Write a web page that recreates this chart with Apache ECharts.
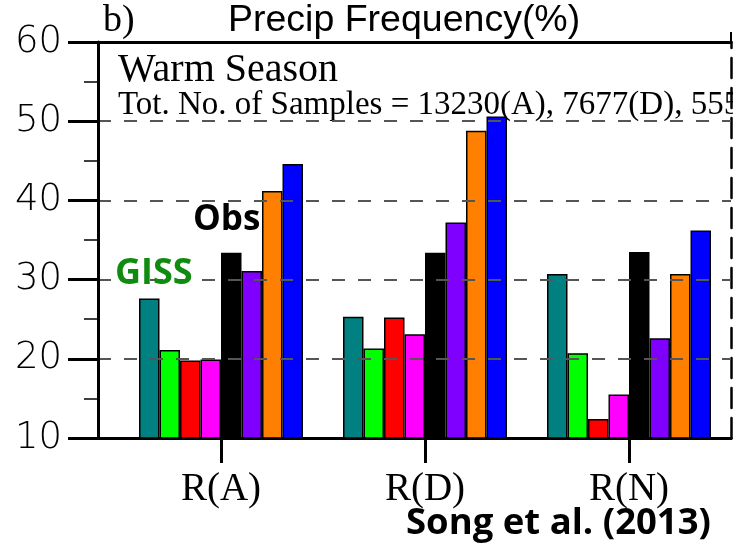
<!DOCTYPE html>
<html>
<head>
<meta charset="utf-8">
<script src="https://cdn.jsdelivr.net/npm/echarts@6/dist/echarts.min.js"></script>
<style>html,body{margin:0;padding:0;background:#fff}#c{width:738px;height:547px}</style>
</head>
<body>
<div id="c"></div>
<script>
const categories = ['R(A)', 'R(D)', 'R(N)'];
const seriesNames = ['Teal', 'GISS', 'Red', 'Magenta', 'Obs', 'Purple', 'Orange', 'Blue'];
const seriesColors = ['#008080', '#00ff00', '#ff0000', '#ff00ff', '#000000', '#8000ff', '#ff8000', '#0000ff'];
const tealVals    = [27.6, 25.3, 30.7];
const greenVals   = [21.1, 21.3, 20.7];
const redVals     = [19.8, 25.2, 12.4];
const magentaVals = [19.9, 23.1, 15.5];
const obsVals     = [33.4, 33.4, 33.5];
const purpleVals  = [31.1, 37.2, 22.6];
const orangeVals  = [41.2, 48.8, 30.7];
const blueVals    = [44.6, 50.6, 36.2];
const yMin = 10, yMax = 60, yStep = 10;
const titleText = 'Precip Frequency(%)';
const panelText = 'b)';
const seasonText = 'Warm Season';
const samplesText = 'Tot. No. of Samples = 13230(A), 7677(D), 555';
const sourceText = 'Song et al. (2013)';

const allVals = [tealVals, greenVals, redVals, magentaVals, obsVals, purpleVals, orangeVals, blueVals];

const chart = echarts.init(document.getElementById('c'), null, {renderer: 'canvas'});
const serif = '"Liberation Serif", "Times New Roman", serif';
const sans = '"Liberation Sans", Arial, sans-serif';
const bold = '"Open Sans", "Noto Sans", sans-serif';

const option = {
  animation: false,
  backgroundColor: '#fff',
  grid: [
    {left: 98, right: 7, top: 42, bottom: 109},
    {left: 119, right: 7, top: 42, bottom: 109}
  ],
  xAxis: [
    {type: 'value', gridIndex: 0, min: 0, max: 1, position: 'bottom',
     axisLine: {show: true, onZero: false, lineStyle: {color: '#000', width: 3}},
     axisTick: {show: false}, axisLabel: {show: false}, splitLine: {show: false}},
    {type: 'value', gridIndex: 0, min: 0, max: 1, position: 'top',
     axisLine: {show: true, onZero: false, lineStyle: {color: '#000', width: 3}},
     axisTick: {show: true, customValues: [1], length: 10, lineStyle: {color: '#000', width: 2}},
     axisLabel: {show: false}, splitLine: {show: false}},
    {type: 'category', gridIndex: 1, data: categories,
     axisLine: {show: true, onZero: false, lineStyle: {color: '#000', width: 3}},
     axisTick: {show: true, alignWithLabel: true, length: 25, lineStyle: {color: '#000', width: 3}},
     axisLabel: {color: '#000', fontFamily: serif, fontSize: 39, margin: 32}}
  ],
  yAxis: [
    {type: 'value', gridIndex: 0, min: yMin, max: yMax, interval: yStep, position: 'left', z: 5,
     axisLine: {show: true, onZero: false, lineStyle: {color: '#000', width: 3}},
     axisTick: {show: true, length: 30, lineStyle: {color: '#000', width: 3}},
     minorTick: {show: true, splitNumber: 2, length: 14, lineStyle: {color: '#000', width: 1.5}},
     axisLabel: {color: '#000', fontFamily: '"DejaVu Sans ExtraLight", "DejaVu Sans", sans-serif', fontWeight: 200, fontSize: 37, margin: 36},
     splitLine: {show: true, showMinLine: false, showMaxLine: false, lineStyle: {color: '#555', width: 2, type: [13, 13]}}},
    {type: 'value', gridIndex: 0, min: yMin, max: yMax, position: 'right',
     axisLine: {show: true, onZero: false, lineStyle: {color: '#000', width: 2.5, type: [20, 10]}},
     axisTick: {show: false}, axisLabel: {show: false}, splitLine: {show: false}},
    {type: 'value', gridIndex: 1, min: yMin, max: yMax, show: false}
  ],
  series: allVals.map((vals, i) => ({
    name: seriesNames[i],
    type: 'bar',
    xAxisIndex: 2,
    yAxisIndex: 2,
    data: vals,
    barWidth: 20.5,
    barGap: '0%',
    itemStyle: {color: seriesColors[i], borderColor: '#000', borderWidth: 1.5}
  })),
  graphic: [
    {type: 'text', left: 103, top: 2, style: {text: panelText, font: '38px ' + serif, fill: '#000'}},
    {type: 'text', left: 228, top: 2, style: {text: titleText, font: '37.5px ' + sans, fill: '#000'}},
    {type: 'text', x: 118, y: 70, style: {text: seasonText, font: '40px ' + serif, fill: '#000', textVerticalAlign: 'middle'}},
    {type: 'text', x: 118, y: 105, style: {text: samplesText, font: '33px ' + serif, fill: '#000', textVerticalAlign: 'middle'}},
    {type: 'rect', z: 20, shape: {x: 733, y: 86, width: 5, height: 30}, style: {fill: '#fff'}},
    {type: 'text', x: 193, y: 220, z: 10, style: {text: 'Obs', font: 'bold 35px ' + bold, fill: '#000', textVerticalAlign: 'middle'}},
    {type: 'text', x: 115, y: 274, z: 10, style: {text: 'GISS', font: 'bold 36px ' + bold, fill: '#0f8c0f', textVerticalAlign: 'middle'}},
    {type: 'text', x: 406, y: 524, z: 10, style: {text: sourceText, font: 'bold 36.5px ' + bold, fill: '#000', textVerticalAlign: 'middle'}}
  ]
};
chart.setOption(option);
</script>
</body>
</html>
